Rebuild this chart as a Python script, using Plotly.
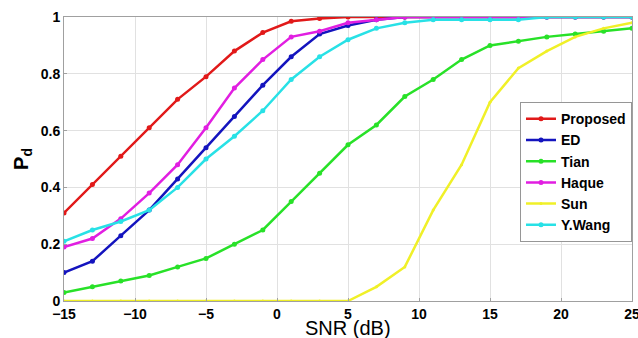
import plotly.graph_objects as go

snr = [-15, -13, -11, -9, -7, -5, -3, -1, 1, 3, 5, 7, 9, 11, 13, 15, 17, 19, 21, 23, 25]
proposed = [0.31, 0.41, 0.51, 0.61, 0.71, 0.79, 0.88, 0.945, 0.985, 0.995, 1, 1, 1, 1, 1, 1, 1, 1, 1, 1, 1]
ed = [0.10, 0.14, 0.23, 0.32, 0.43, 0.54, 0.65, 0.76, 0.86, 0.94, 0.97, 0.99, 1, 1, 1, 1, 1, 1, 1, 1, 1]
tian = [0.03, 0.05, 0.07, 0.09, 0.12, 0.15, 0.20, 0.25, 0.35, 0.45, 0.55, 0.62, 0.72, 0.78, 0.85, 0.90, 0.915, 0.93, 0.94, 0.95, 0.96]
haque = [0.19, 0.22, 0.29, 0.38, 0.48, 0.61, 0.75, 0.85, 0.93, 0.95, 0.98, 0.99, 1, 1, 1, 1, 1, 1, 1, 1, 1]
sun = [0, 0, 0, 0, 0, 0, 0, 0, 0, 0, 0, 0.05, 0.12, 0.32, 0.48, 0.70, 0.82, 0.88, 0.93, 0.96, 0.98]
ywang = [0.21, 0.25, 0.28, 0.32, 0.40, 0.50, 0.58, 0.67, 0.78, 0.86, 0.92, 0.96, 0.98, 0.99, 0.99, 0.99, 0.99, 1, 1, 1, 1]
x_ticks = [-15, -10, -5, 0, 5, 10, 15, 20, 25]
y_ticks = [0, 0.2, 0.4, 0.6, 0.8, 1]
y_tick_text = ["0", "0.2", "0.4", "0.6", "0.8", "1"]

series = [
    ("Proposed", proposed, "rgb(225,25,25)", 5),
    ("ED", ed, "rgb(20,20,190)", 5),
    ("Tian", tian, "rgb(40,225,40)", 5),
    ("Haque", haque, "rgb(225,30,225)", 5),
    ("Sun", sun, "rgb(240,240,40)", 3),
    ("Y.Wang", ywang, "rgb(40,225,230)", 5),
]

FONT = "Liberation Sans, Arial, sans-serif"

fig = go.Figure()
for name, vals, col, ms in series:
    fig.add_trace(go.Scatter(x=snr, y=vals, name="<b>" + name + "</b>", mode="lines+markers",
                             line=dict(color=col, width=2.5),
                             marker=dict(color=col, size=ms)))

axis_common = dict(showgrid=True, gridcolor="rgb(225,225,225)", zeroline=False,
                   showline=True, linecolor="rgb(160,160,160)", mirror=True,
                   ticks="inside", ticklen=3, tickcolor="rgb(160,160,160)",
                   tickfont=dict(size=14, family=FONT, weight="bold", color="black"),
                   ticklabeloverflow="allow", automargin=False)

fig.update_layout(
    width=638, height=338,
    margin=dict(l=64, r=6, t=17, b=37),
    paper_bgcolor="white", plot_bgcolor="white",
    font=dict(family=FONT, color="black"),
    showlegend=True,
    legend=dict(x=1.0, xanchor="right", y=0.70, yanchor="top",
                bgcolor="white", bordercolor="rgb(150,150,150)", borderwidth=1,
                font=dict(size=14, family=FONT, color="black"),
                tracegroupgap=0, itemwidth=30),
    xaxis=dict(range=[-15, 25], tickvals=x_ticks, **axis_common),
    yaxis=dict(range=[0, 1], tickvals=y_ticks, ticktext=y_tick_text, **axis_common),
    annotations=[
        dict(text="SNR (dB)", xref="paper", yref="paper", x=0.5, y=-0.096,
             xanchor="center", yanchor="middle", showarrow=False,
             font=dict(size=20, family=FONT, color="black")),
        dict(text="<b>P<sub>d</sub></b>", xref="paper", yref="paper", x=-0.074, y=0.5,
             xanchor="center", yanchor="middle", showarrow=False, textangle=-90,
             font=dict(size=20, family=FONT, color="black")),
    ],
)

fig.write_html("out.html", config={"displayModeBar": False},
               post_script="document.body.style.margin='0';document.body.style.overflow='hidden';")
